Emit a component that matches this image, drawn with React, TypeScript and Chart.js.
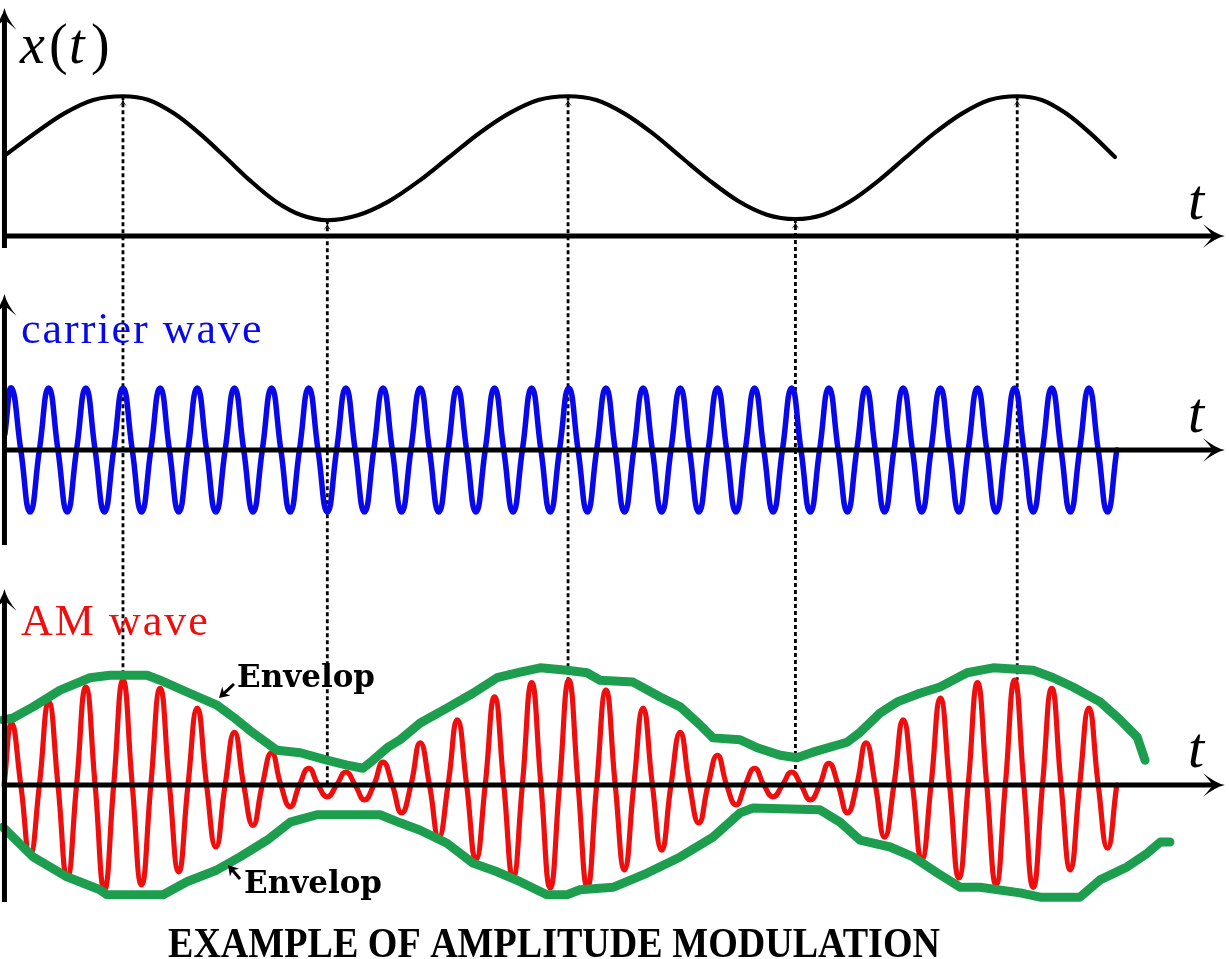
import React, { useEffect, useRef } from "react";
import { Chart, registerables } from "chart.js";

Chart.register(...registerables);

const WIDTH = 1229;
const HEIGHT = 959;

// ---------------- data ----------------
// time axis in carrier periods, t = 0 at the first carrier crest
const timeRange = [-0.31, 32.77];

// message signal x(t): points
const modTimes = [
  -0.17, 0.62, 1.41, 2.2, 3.0, 3.69, 4.38, 5.06, 5.75, 6.44,
  7.12, 7.81, 8.5, 9.32, 10.14, 10.96, 11.78, 12.58, 13.38, 14.18,
  14.98, 15.74, 16.5, 17.26, 18.02, 18.79, 19.56, 20.33, 21.1, 21.85,
  22.59, 23.34, 24.08, 24.83, 25.58, 26.32, 27.07, 27.73, 28.39, 29.04,
  29.7,
];
const modValues = [
  0.03, 0.38, 0.7, 0.92, 0.98, 0.92, 0.7, 0.38, 0, -0.39,
  -0.72, -0.94, -1.02, -0.94, -0.72, -0.39, 0, 0.38, 0.7, 0.92,
  0.98, 0.92, 0.7, 0.38, 0, -0.38, -0.71, -0.93, -1.0, -0.93,
  -0.71, -0.38, 0, 0.38, 0.7, 0.92, 0.98, 0.92, 0.7, 0.38,
  0,
];

// carrier wave: signed crest values at every half period (t = 0, 0.5, 1, ...)
const carrierStart = [-0.18, 0.25];
const carrierCrests = [
  1, -1, 1, -1, 1, -1, 1, -1, 1, -1, 1, -1, 1, -1, 1, -1, 1, -1, 1, -1,
  1, -1, 1, -1, 1, -1, 1, -1, 1, -1, 1, -1, 1, -1, 1, -1, 1, -1, 1, -1,
  1, -1, 1, -1, 1, -1, 1, -1, 1, -1, 1, -1, 1, -1, 1, -1, 1, -1, 1, -1,
];

// AM wave: signed crest values at every half period
const amStart = [-0.2, 0];
const amCrests = [
  1.0, -1.13, 1.34, -1.5, 1.58, -1.69, 1.69, -1.61, 1.56, -1.4,
  1.24, -1.0, 0.85, -0.65, 0.52, -0.35, 0.27, -0.19, 0.21, -0.24,
  0.37, -0.45, 0.68, -0.84, 1.05, -1.21, 1.42, -1.5, 1.65, -1.66,
  1.69, -1.65, 1.53, -1.37, 1.24, -1.05, 0.85, -0.61, 0.48, -0.32,
  0.27, -0.19, 0.21, -0.24, 0.35, -0.45, 0.68, -0.84, 1.05, -1.21,
  1.4, -1.5, 1.65, -1.61, 1.69, -1.65, 1.56, -1.37, 1.24, -1.02,
];

// hand drawn envelopes
const envUpperT = [
  -0.23, 0.04, 0.58, 1.31, 2.11, 2.65, 3.65, 4.0, 4.72, 5.53,
  5.96, 6.5, 7.15, 7.77, 8.49, 9.03, 9.46, 9.73, 10.11, 10.46,
  11.0, 11.72, 12.42, 13.07, 13.69, 14.23, 14.95, 15.49, 15.84, 16.73,
  17.46, 18.0, 18.53, 18.88, 19.61, 20.07, 20.69, 21.14, 21.57, 22.49,
  22.84, 23.38, 23.84, 24.45, 24.99, 25.72, 26.42, 27.5, 28.04, 28.57,
  29.3, 29.84, 30.3, 30.51,
];
const envUpperV = [
  1.05, 1.08, 1.26, 1.53, 1.73, 1.77, 1.77, 1.69, 1.5, 1.29,
  1.1, 0.84, 0.56, 0.52, 0.4, 0.32, 0.27, 0.4, 0.6, 0.73,
  1.0, 1.24, 1.48, 1.73, 1.82, 1.89, 1.85, 1.81, 1.69, 1.66,
  1.42, 1.26, 0.97, 0.76, 0.73, 0.6, 0.48, 0.44, 0.53, 0.69,
  0.85, 1.16, 1.34, 1.48, 1.58, 1.81, 1.89, 1.85, 1.73, 1.58,
  1.34, 1.05, 0.77, 0.4,
];
const envLowerT = [
  -0.23, 0.04, 0.58, 1.49, 2.38, 2.57, 4.08, 4.72, 5.53, 6.15,
  6.88, 7.5, 8.22, 9.92, 10.46, 11.0, 11.72, 12.42, 13.07, 13.69,
  14.41, 14.95, 15.3, 16.19, 17.11, 18.0, 18.88, 19.61, 19.96, 21.76,
  22.3, 22.84, 23.65, 24.27, 24.92, 25.54, 26.07, 27.15, 27.69, 28.76,
  29.3, 30.03, 30.57, 30.92, 31.18,
];
const envLowerV = [
  -0.68, -0.84, -1.16, -1.48, -1.69, -1.77, -1.77, -1.56, -1.37, -1.16,
  -0.89, -0.6, -0.48, -0.48, -0.61, -0.73, -0.94, -1.26, -1.4, -1.56,
  -1.77, -1.77, -1.69, -1.65, -1.42, -1.16, -0.84, -0.45, -0.37, -0.4,
  -0.6, -0.89, -1.0, -1.16, -1.42, -1.65, -1.65, -1.74, -1.81, -1.81,
  -1.53, -1.32, -1.1, -0.92, -0.92,
];

// dotted guide lines: from x(t) extrema down to the AM wave
const guideTimes = [3.0, 8.5, 14.98, 21.1, 27.07];
const guideTop = [0.98, -1.02, 0.98, -1.0, 0.98];
const guideBottom = [1.69, 0.03, 1.69, 0.21, 1.69];

// text labels
const labelSignal = ["x", "(", "t", ")"];
const labelCarrier = "carrier wave";
const labelAM = "AM wave";
const labelEnvelope = "Envelop";
const labelTime = "t";
const titleText = "EXAMPLE OF AMPLITUDE MODULATION";

// ---------------- layout (y scale in page pixels) ----------------
const UNIT = 62;
const MID1 = 157;
const AXIS1 = 236;
const AXIS2 = 450;
const AXIS3 = 785;
const HALF = 0.5;
const QUARTER = 0.25;
const AXIS_T = -0.19;
const AXIS_START_T = -0.25;
const AXIS_TIP_T = 32.66;
const PANELS = [
  { top: 8, bottom: 248, axis: AXIS1 },
  { top: 294, bottom: 545, axis: AXIS2 },
  { top: 589, bottom: 902, axis: AXIS3 },
];

const BLUE = "rgb(8,8,235)";
const RED = "rgb(238,14,14)";
const GREEN = "rgb(28,158,78)";

function crestPoints(start: number[], crests: number[], base: number) {
  const pts = [{ x: start[0], y: base - start[1] * UNIT }];
  crests.forEach((c, k) => {
    pts.push({ x: k * HALF, y: base - c * UNIT });
    pts.push({ x: k * HALF + QUARTER, y: base });
  });
  return pts;
}

function pairPoints(ts: number[], vs: number[], base: number) {
  return ts.map((t, i) => ({ x: t, y: base - vs[i] * UNIT }));
}

function arrowHead(ctx: CanvasRenderingContext2D, x: number, y: number, angle: number, size: number) {
  ctx.save();
  ctx.translate(x, y);
  ctx.rotate(angle);
  ctx.beginPath();
  ctx.moveTo(0, 0);
  ctx.quadraticCurveTo(-0.45 * size, -0.1 * size, -size, -0.55 * size);
  ctx.quadraticCurveTo(-0.62 * size, -0.12 * size, -0.55 * size, 0);
  ctx.quadraticCurveTo(-0.62 * size, 0.12 * size, -size, 0.55 * size);
  ctx.quadraticCurveTo(-0.45 * size, 0.1 * size, 0, 0);
  ctx.closePath();
  ctx.fill();
  ctx.restore();
}

function simpleArrow(ctx: CanvasRenderingContext2D, x0: number, y0: number, x1: number, y1: number) {
  const ang = Math.atan2(y1 - y0, x1 - x0);
  ctx.beginPath();
  ctx.moveTo(x0, y0);
  ctx.lineTo(x1 - 5 * Math.cos(ang), y1 - 5 * Math.sin(ang));
  ctx.stroke();
  ctx.save();
  ctx.translate(x1, y1);
  ctx.rotate(ang);
  ctx.beginPath();
  ctx.moveTo(0, 0);
  ctx.lineTo(-10, -6);
  ctx.lineTo(-7, 0);
  ctx.lineTo(-10, 6);
  ctx.closePath();
  ctx.fill();
  ctx.restore();
}

const overlay = {
  id: "overlay",
  afterDraw(chart: any) {
    const ctx: CanvasRenderingContext2D = chart.ctx;
    const xs = chart.scales.x;
    const ys = chart.scales.y;
    const px = (t: number) => xs.getPixelForValue(t);
    const py = (v: number) => ys.getPixelForValue(v);
    ctx.save();
    ctx.fillStyle = "#000";
    ctx.strokeStyle = "#000";

    // axes
    ctx.lineWidth = 5;
    ctx.lineCap = "butt";
    PANELS.forEach((p) => {
      const ax = px(AXIS_T);
      ctx.beginPath();
      ctx.moveTo(ax, py(p.bottom));
      ctx.lineTo(ax, py(p.top) + 10);
      ctx.stroke();
      arrowHead(ctx, ax, py(p.top), -Math.PI / 2, 22);
      ctx.beginPath();
      ctx.moveTo(px(AXIS_START_T), py(p.axis));
      ctx.lineTo(px(AXIS_TIP_T) - 10, py(p.axis));
      ctx.stroke();
      arrowHead(ctx, px(AXIS_TIP_T), py(p.axis), 0, 22);
    });

    // small arrow tips of guide lines at x(t)
    guideTimes.forEach((t, i) => {
      const yTop = py(MID1 - guideTop[i] * UNIT) + 3;
      arrowHead(ctx, px(t), yTop, -Math.PI / 2, 7);
    });

    // math labels
    ctx.textBaseline = "alphabetic";
    ctx.textAlign = "left";
    const signalX = [20, 49, 69, 91];
    labelSignal.forEach((s, i) => {
      const italic = s === "x" || s === "t";
      ctx.font = `${italic ? "italic " : ""}56px "Liberation Serif"`;
      ctx.fillText(s, signalX[i], 63);
    });
    ctx.font = 'italic 58px "Liberation Serif"';
    [219, 432, 767].forEach((b) => ctx.fillText(labelTime, 1188, b));

    // panel titles
    ctx.font = '44px "Liberation Serif"';
    (ctx as any).letterSpacing = "2px";
    ctx.fillStyle = BLUE;
    ctx.fillText(labelCarrier, 21, 343);
    ctx.fillStyle = RED;
    ctx.fillText(labelAM, 21, 635);
    (ctx as any).letterSpacing = "0px";

    // envelope labels
    ctx.fillStyle = "#000";
    ctx.font = 'bold 31px "DejaVu Serif"';
    ctx.fillText(labelEnvelope, 237, 687);
    ctx.fillText(labelEnvelope, 244, 893);
    ctx.lineWidth = 3;
    simpleArrow(ctx, 234, 684, 219, 698);
    simpleArrow(ctx, 240, 879, 228, 865);

    // title
    ctx.font = 'bold 43px "Liberation Serif"';
    ctx.fillText(titleText, 168, 957, 772);
    ctx.restore();
  },
};

export default function App() {
  const ref = useRef<HTMLCanvasElement>(null);
  useEffect(() => {
    const canvas = ref.current;
    if (!canvas) return;
    const wave = (data: any[], color: string, width: number, tension: number) => ({
      data,
      borderColor: color,
      borderWidth: width,
      tension,
      pointRadius: 0,
      fill: false,
      borderCapStyle: "round" as const,
      borderJoinStyle: "round" as const,
    });
    const message: any = wave(pairPoints(modTimes, modValues, MID1), "#000", 4.2, 0);
    message.cubicInterpolationMode = "monotone";
    const datasets: any[] = [
      wave(pairPoints(envUpperT, envUpperV, AXIS3), GREEN, 9, 0),
      wave(pairPoints(envLowerT, envLowerV, AXIS3), GREEN, 9, 0),
      wave(crestPoints(amStart, amCrests, AXIS3), RED, 5.2, 0.5),
      wave(crestPoints(carrierStart, carrierCrests, AXIS2), BLUE, 5.5, 0.5),
      message,
    ];
    guideTimes.forEach((t, i) => {
      datasets.push({
        data: [
          { x: t, y: MID1 - guideTop[i] * UNIT },
          { x: t, y: AXIS3 - guideBottom[i] * UNIT },
        ],
        borderColor: "#000",
        borderWidth: 2.8,
        borderDash: [4, 3],
        pointRadius: 0,
        tension: 0,
        fill: false,
      });
    });
    const chart = new Chart(canvas, {
      type: "line",
      data: { datasets },
      options: {
        animation: false,
        responsive: false,
        maintainAspectRatio: false,
        devicePixelRatio: 1,
        events: [],
        layout: { padding: 0 },
        plugins: { legend: { display: false }, tooltip: { enabled: false }, title: { display: false } },
        scales: {
          x: { type: "linear", min: timeRange[0], max: timeRange[1], display: false },
          y: { type: "linear", min: 0, max: HEIGHT, reverse: true, display: false },
        },
      },
      plugins: [overlay],
    } as any);
    return () => chart.destroy();
  }, []);
  return (
    <div style={{ position: "absolute", left: 0, top: 0, width: WIDTH, height: HEIGHT, background: "#fff" }}>
      <canvas ref={ref} width={WIDTH} height={HEIGHT} style={{ display: "block" }} />
    </div>
  );
}
